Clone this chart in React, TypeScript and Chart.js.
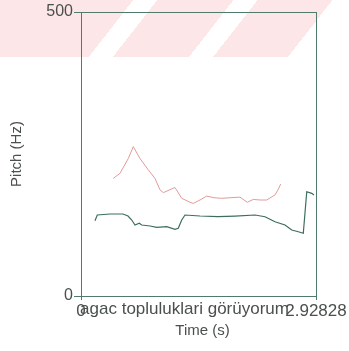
import React, { useEffect, useRef } from "react";
import { Chart, registerables } from "chart.js";

Chart.register(...registerables);

// ---- data ----
const timeEnd = 2.92828;
const pitchMin = 0;
const pitchMax = 500;
const yTicks = [0, 500];
const xTicks = [0, 2.92828];
const xTickLabels = ["0", "2.92828"];
const wordText = "agac topluluklari görüyorum";
const wordCenterTime = 1.29;
const xTitle = "Time (s)";
const yTitle = "Pitch (Hz)";

const redTime = [0.402, 0.486, 0.589, 0.652, 0.735, 0.839, 0.922, 0.984, 1.026, 1.171, 1.255, 1.358, 1.399, 1.483, 1.566, 1.657, 1.753, 1.857, 1.981, 2.072, 2.147, 2.231, 2.314, 2.417, 2.455, 2.488];
const redHz = [207, 216, 242, 263, 242, 222, 207, 187, 182, 191, 172, 165, 163, 169, 176, 173, 172, 173, 174, 165, 170, 169, 169, 178, 187, 197];

const greenTime = [0.174, 0.203, 0.361, 0.523, 0.586, 0.632, 0.673, 0.726, 0.756, 0.86, 0.943, 1.068, 1.171, 1.212, 1.255, 1.296, 1.483, 1.707, 1.919, 2.168, 2.293, 2.417, 2.542, 2.626, 2.708, 2.77, 2.813, 2.875, 2.903];
const greenHz = [132.6, 142.6, 144.4, 144.4, 140.8, 133.8, 125, 128, 125, 123.2, 121, 122, 117.4, 119.2, 133.8, 142.6, 140.8, 139.6, 140.8, 142.6, 139.6, 130.8, 125, 116.2, 113.2, 110.4, 183.6, 180.8, 177.8];

const frameColor = "#4f7b6d";
const textColor = "#4a504c";
const fontFamily = "'Liberation Sans', Arial, sans-serif";

export default function App() {
  const canvasRef = useRef<HTMLCanvasElement | null>(null);

  useEffect(() => {
    const canvas = canvasRef.current;
    if (!canvas) return;

    const overlay = {
      id: "overlay",
      afterDraw(chart: any) {
        const { ctx, chartArea } = chart;
        const xs = chart.scales.x;
        ctx.save();
        ctx.strokeStyle = frameColor;
        ctx.lineWidth = 1;
        ctx.strokeRect(
          Math.round(chartArea.left) + 0.5,
          Math.round(chartArea.top) + 0.5,
          Math.round(chartArea.right - chartArea.left),
          Math.round(chartArea.bottom - chartArea.top)
        );
        ctx.fillStyle = textColor;
        ctx.font = `17px ${fontFamily}`;
        ctx.textAlign = "center";
        ctx.textBaseline = "middle";
        ctx.fillText(wordText, xs.getPixelForValue(wordCenterTime), chartArea.bottom + 13);
        ctx.font = `15px ${fontFamily}`;
        ctx.fillText(xTitle, (chartArea.left + chartArea.right) / 2 + 4, chartArea.bottom + 35);
        ctx.translate(17, (chartArea.top + chartArea.bottom) / 2);
        ctx.rotate(-Math.PI / 2);
        ctx.fillText(yTitle, 0, 0);
        ctx.restore();
      },
    };

    const chart = new Chart(canvas, {
      type: "line",
      data: {
        datasets: [
          {
            data: redTime.map((t, i) => ({ x: t, y: redHz[i] })),
            borderColor: "#e39a9a",
            borderWidth: 1,
            pointRadius: 0,
            tension: 0,
          },
          {
            data: greenTime.map((t, i) => ({ x: t, y: greenHz[i] })),
            borderColor: "#3c6e5e",
            borderWidth: 1.2,
            pointRadius: 0,
            tension: 0,
          },
        ],
      },
      options: {
        animation: false,
        responsive: false,
        layout: { padding: { top: 12, right: 33, left: 0, bottom: 0 } },
        plugins: { legend: { display: false }, tooltip: { enabled: false } },
        scales: {
          x: {
            type: "linear",
            min: 0,
            max: timeEnd,
            afterBuildTicks: (s: any) => {
              s.ticks = xTicks.map((v) => ({ value: v }));
            },
            afterFit: (s: any) => {
              s.height = 55;
            },
            ticks: {
              autoSkip: false,
              maxRotation: 0,
              padding: 1,
              color: textColor,
              font: { family: fontFamily, size: 17 },
              callback: (_v: any, i: number) => xTickLabels[i],
            },
            grid: { display: true, drawOnChartArea: false, tickLength: 4, color: frameColor },
            border: { display: true, color: frameColor },
          },
          y: {
            type: "linear",
            min: pitchMin,
            max: pitchMax,
            afterBuildTicks: (s: any) => {
              s.ticks = yTicks.map((v) => ({ value: v }));
            },
            afterFit: (s: any) => {
              s.width = 81;
            },
            ticks: {
              autoSkip: false,
              padding: 1,
              color: textColor,
              font: { family: fontFamily, size: 16 },
              callback: (v: any) => String(v),
            },
            grid: { display: true, drawOnChartArea: false, tickLength: 7, color: frameColor },
            border: { display: true, color: frameColor },
          },
        },
      },
      plugins: [overlay],
    });

    return () => chart.destroy();
  }, []);

  const pink = "#fde6e8";
  return (
    <div style={{ position: "fixed", left: 0, top: 0, width: 349, height: 351, background: "#ffffff" }}>
      <div
        style={{
          position: "absolute",
          left: 0,
          top: 0,
          width: 349,
          height: 57,
          background: `linear-gradient(128deg, ${pink} 0px, ${pink} 105px, #ffffff 105px, #ffffff 124px, ${pink} 124px, ${pink} 184px, #ffffff 184px, #ffffff 203px, ${pink} 203px, ${pink} 262px, #ffffff 262px)`,
        }}
      />
      <canvas ref={canvasRef} width={349} height={351} style={{ position: "absolute", left: 0, top: 0 }} />
    </div>
  );
}
